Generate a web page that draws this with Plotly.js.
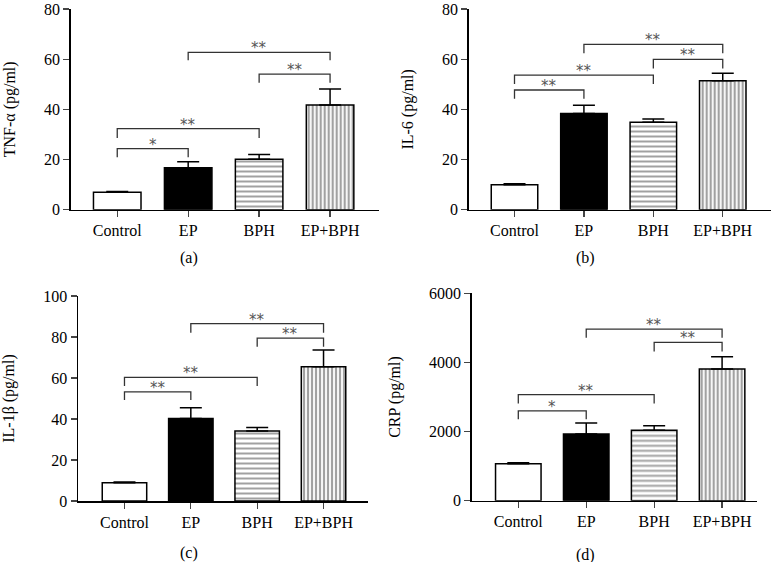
<!DOCTYPE html>
<html>
<head>
<meta charset="utf-8">
<script src="https://cdn.plot.ly/plotly-3.0.1.min.js"></script>
<style>html,body{margin:0;padding:0;background:#fff;}#chart{width:771px;height:562px;}</style>
</head>
<body>
<div id="chart"></div>
<script>
// ---- data ----
const groups = ["Control", "EP", "BPH", "EP+BPH"];

const tnfMean = [6.9, 16.7, 20.1, 41.7];
const tnfSem  = [0.3, 2.4, 1.9, 6.4];

const il6Mean = [9.9, 38.3, 34.9, 51.4];
const il6Sem  = [0.4, 3.3, 1.2, 3.0];

const il1bMean = [8.9, 40.2, 34.1, 65.5];
const il1bSem  = [0.4, 5.3, 1.8, 8.2];

const crpMean = [1070, 1929, 2035, 3809];
const crpSem  = [30, 318, 135, 357];

// significance brackets: [from group, to group, bar level, leg bottom, label]
const tnfBrackets  = [[0,1,24.3,20.9,"*"],[0,2,32.3,28.6,"**"],[2,3,54.0,50.6,"**"],[1,3,62.7,59.6,"**"]];
const il6Brackets  = [[0,1,47.7,44.2,"**"],[0,2,53.6,50.1,"**"],[2,3,59.9,56.3,"**"],[1,3,65.9,62.4,"**"]];
const il1bBrackets = [[0,1,53.2,49.3,"**"],[0,2,60.3,56.1,"**"],[2,3,79.5,75.3,"**"],[1,3,86.5,82.1,"**"]];
const crpBrackets  = [[0,1,2600,2353,"*"],[0,2,3066,2810,"**"],[2,3,4580,4320,"**"],[1,3,4966,4716,"**"]];

const yTitles = ["TNF-α (pg/ml)", "IL-6 (pg/ml)", "IL-1β (pg/ml)", "CRP (pg/ml)"];
const panelLabels = ["(a)", "(b)", "(c)", "(d)"];
const yMax = [80, 80, 100, 6000];
const yStep = [20, 20, 20, 2000];

// ---- build ----
const means = [tnfMean, il6Mean, il1bMean, crpMean];
const sems = [tnfSem, il6Sem, il1bSem, crpSem];
const brackets = [tnfBrackets, il6Brackets, il1bBrackets, crpBrackets];
const xIdx = groups.map((g, i) => i);

const FONT = "Liberation Serif, Times New Roman, serif";
const xDomains = [[0.0917, 0.4916], [0.6079, 1.0], [0.1012, 0.4773], [0.6118, 0.9815]];
const yDomains = [[0.6269, 0.9840], [0.6269, 0.9840], [0.1085, 0.4733], [0.1091, 0.4781]];
const xRanges = [[-0.656, 3.69], [-0.66, 3.695], [-0.70, 3.67], [-0.686, 3.51]];
const labelPos = [[0.2451, 0.5409], [0.7588, 0.5409], [0.2451, 0.016], [0.7588, 0.0125]];

const traces = [];
const annotations = [];
const layout = {
  width: 771, height: 562,
  margin: {l: 0, r: 0, t: 0, b: 0},
  paper_bgcolor: "#fff", plot_bgcolor: "rgba(0,0,0,0)",
  showlegend: false,
  font: {family: FONT, size: 16, color: "#000"},
  annotations: annotations
};

for (let p = 0; p < 4; p++) {
  const sfx = p === 0 ? "" : String(p + 1);
  const xa = "x" + sfx, ya = "y" + sfx;
  traces.push({
    type: "bar", x: xIdx, y: means[p], xaxis: xa, yaxis: ya, width: 0.67,
    marker: {
      color: ["#fff", "#000", "#fff", "#fff"],
      line: {color: "#000", width: 1.5},
      pattern: {shape: ["", "", "-", "|"], fgcolor: "#000", bgcolor: "#fff",
                size: [8, 8, 5, 4], solidity: [0.3, 0.3, 0.4, 0.55], fillmode: "overlay"}
    },
    error_y: {type: "data", symmetric: false, array: sems[p], arrayminus: [0, 0, 0, 0],
              color: "#000", thickness: 1.5, width: 11},
    hoverinfo: "none"
  });
  brackets[p].forEach(b => {
    const [a, c, top, leg, lab] = b;
    traces.push({
      type: "scatter", mode: "lines", xaxis: xa, yaxis: ya,
      x: [a, a, c, c], y: [leg, top, top, leg],
      line: {color: "#333", width: 1.3}, hoverinfo: "none"
    });
    annotations.push({
      xref: xa, yref: ya, x: (a + c) / 2, y: top, text: lab, showarrow: false,
      yanchor: "bottom", yshift: -7,
      font: {family: "DejaVu Sans, sans-serif", size: 15, color: "#555"}
    });
  });
  layout["xaxis" + sfx] = {
    domain: xDomains[p], range: xRanges[p], anchor: ya,
    tickvals: xIdx, ticktext: groups, ticks: "outside", ticklen: 6, tickwidth: 1.3,
    showline: true, linecolor: "#000", linewidth: 1.5, showgrid: false, zeroline: false,
    tickfont: {family: FONT, size: 16, color: "#000"}, fixedrange: true,
    ticklabeloverflow: "allow"
  };
  layout["yaxis" + sfx] = {
    domain: yDomains[p], range: [0, yMax[p]], anchor: xa, dtick: yStep[p], tick0: 0,
    ticks: "outside", ticklen: 6, tickwidth: 1.3,
    showline: true, linecolor: "#000", linewidth: 1.5, showgrid: false, zeroline: false,
    tickfont: {family: FONT, size: 16, color: "#000"},
    ticklabeloverflow: "allow",
    title: {text: yTitles[p], font: {family: FONT, size: 16, color: "#000"}, standoff: 24},
    automargin: false, fixedrange: true
  };
  annotations.push({
    xref: "paper", yref: "paper", x: labelPos[p][0], y: labelPos[p][1],
    text: panelLabels[p], showarrow: false, xanchor: "center", yanchor: "middle",
    font: {family: FONT, size: 16, color: "#000"}
  });
}

Plotly.newPlot("chart", traces, layout, {displayModeBar: false, staticPlot: true});
</script>
</body>
</html>
